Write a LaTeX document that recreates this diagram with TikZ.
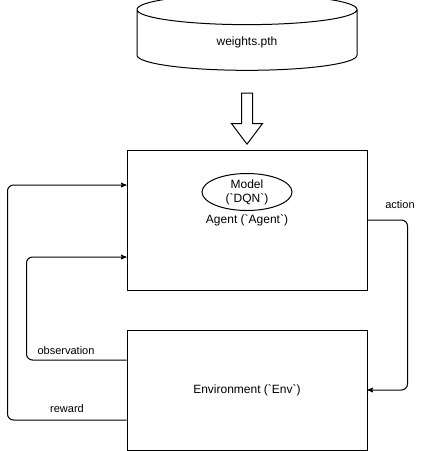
\documentclass[tikz,border=0pt]{standalone}
\usepackage{fontspec}
\setmainfont{Liberation Sans}
\usepackage{tikz}
\usetikzlibrary{arrows}
\usetikzlibrary{shapes.geometric,shapes.arrows,positioning}

\newcommand{\bq}{\textasciigrave}

\begin{document}
\begin{tikzpicture}[x=1pt,y=-1pt,>=stealth',line width=1pt,
                    box/.style={rectangle,draw,minimum width=240pt,font=\fontsize{12}{14}\selectfont},
                    flow/.style={->,rounded corners=6pt},
                    lbl/.style={font=\fontsize{11}{13}\selectfont}]

  \useasboundingbox (0,0) rectangle (428,451);

  \node[cylinder,draw,shape border rotate=90,aspect=0.45,minimum width=220pt,minimum height=76pt,
        font=\fontsize{12}{14}\selectfont] (weights) at (247,42) {weights.pth};
  \node[single arrow,draw,rotate=-90,inner sep=5pt,minimum height=51pt,
        single arrow head extend=10pt,single arrow tip angle=74] (load) at (247,115) {};

  \node[box,minimum height=140pt] (agent) at (247,220) {Agent (\bq Agent\bq)};
  \node[ellipse,draw,minimum width=90pt,minimum height=37pt,inner sep=0pt,align=center,
        font=\fontsize{12}{14}\selectfont] (model) at (247,192) {Model\\(\bq DQN\bq)};
  \node[box,minimum height=120pt] (env) at (247,390) {Environment (\bq Env\bq)};

  % action goes from the agent to the environment
  \draw[flow] (agent.east) -- ++(40,0) |- (env.east);
  \node[lbl] (action) at (400,205) {action};

  % observation and reward come back to the agent
  \draw[flow] ([yshift=30pt]env.west) -- ++(-100,0) |- ([yshift=-37pt]agent.west);
  \node[lbl] (obs) at (66,351) {observation};
  \draw[flow] ([yshift=-30pt]env.west) -- ++(-119,0) |- ([yshift=35pt]agent.west);
  \node[lbl] (rew) at (67,409) {reward};
\end{tikzpicture}
\end{document}
